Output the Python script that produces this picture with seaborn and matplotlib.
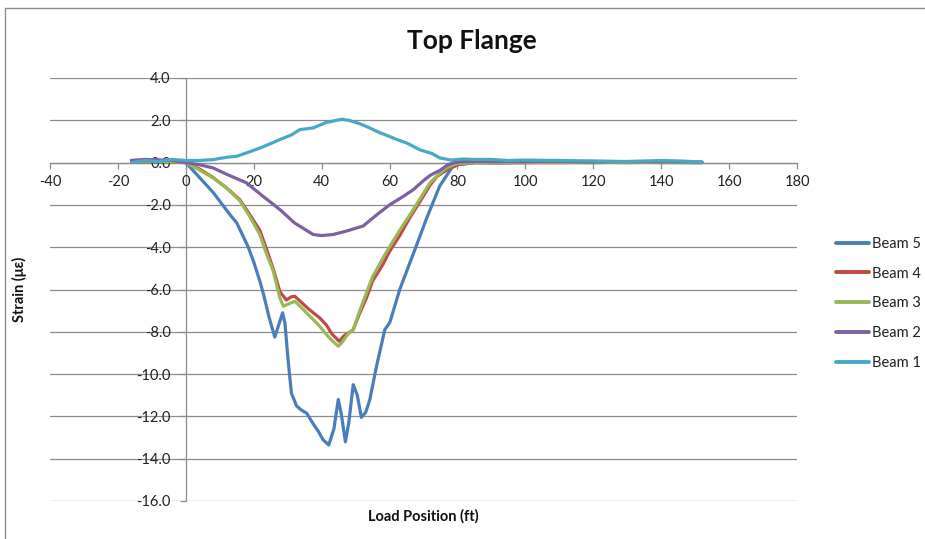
import matplotlib
matplotlib.use("Agg")
import matplotlib.pyplot as plt
from matplotlib.lines import Line2D
import numpy as np
import pandas as pd
import seaborn as sns

# Load position (ft) and strain readings for each beam, top flange gauges
beam5_x = [-16, -10, -5, -2, 0, 4, 8, 13, 15, 18.4, 20, 21.8, 23, 24.5, 26.2, 27.5, 28.5,
           29.2, 30.1, 31.1, 32.6, 34, 35.6, 37.5, 39, 40.4, 42.1, 43, 43.6, 44.9, 45.8,
           47.0, 48, 49.3, 50.5, 51.7, 53, 54.2, 56.2, 58.6, 60.1, 63, 67.5, 71, 74.8,
           78.3, 80, 85, 90, 100, 110, 120, 130, 140, 152]
beam5_y = [0.1, 0.12, 0.1, 0.05, 0.0, -0.7, -1.4, -2.46, -2.85, -4.0, -4.7, -5.6, -6.3,
           -7.3, -8.25, -7.6, -7.1, -7.6, -9.3, -10.9, -11.5, -11.7, -11.85, -12.35,
           -12.7, -13.1, -13.35, -12.9, -12.6, -11.2, -11.9, -13.2, -12.3, -10.5, -11.0,
           -12.05, -11.8, -11.2, -9.6, -7.9, -7.55, -6.0, -4.1, -2.6, -1.1, -0.25, -0.1,
           0.0, -0.02, 0.0, 0.02, 0.0, 0.02, 0.0, 0.0]

beam4_x = [-16, -10, -5, 0, 4, 8, 12, 15.9, 19, 21.8, 24, 25.7, 27.7, 29.6, 31, 32.1, 34,
           36, 39.5, 41.5, 43, 45.2, 46.5, 49.3, 51, 53.2, 55, 58.1, 60, 63, 66, 69.9,
           72, 74, 77.8, 80, 85, 90, 100, 110, 120, 130, 140, 152]
beam4_y = [0.05, 0.05, 0.05, 0.0, -0.3, -0.7, -1.2, -1.75, -2.5, -3.2, -4.2, -5.0, -6.1,
           -6.5, -6.35, -6.32, -6.6, -6.9, -7.35, -7.7, -8.1, -8.45, -8.2, -7.9, -7.2,
           -6.4, -5.6, -4.8, -4.2, -3.45, -2.6, -1.6, -1.05, -0.65, -0.25, -0.1, 0.0,
           0.0, 0.0, 0.0, 0.02, 0.0, 0.03, 0.0]

beam3_x = [-16, -10, -5, 0, 4, 8, 12, 15.9, 19, 21.8, 23.5, 25.7, 27.7, 28.7, 30, 32.1,
           34, 37.5, 39.5, 41.4, 43, 44.9, 46, 48, 49.3, 51, 53.2, 55, 58.1, 60.1, 63,
           67, 71.9, 74.5, 76.8, 79.7, 85, 90, 100, 110, 120, 130, 140, 152]
beam3_y = [0.05, 0.08, 0.05, 0.0, -0.35, -0.72, -1.2, -1.8, -2.6, -3.4, -4.2, -5.1,
           -6.4, -6.79, -6.7, -6.56, -6.85, -7.42, -7.75, -8.13, -8.4, -8.68, -8.5,
           -8.05, -7.9, -7.1, -6.16, -5.4, -4.5, -3.96, -3.2, -2.22, -0.96, -0.55,
           -0.25, -0.05, 0.0, 0.0, 0.02, 0.0, 0.0, 0.02, 0.02, 0.0]

beam2_x = [-16, -12, -8, -4, 0, 4, 8, 12, 17.9, 22, 27.7, 32, 37.5, 40, 43.4, 47, 52.2,
           57, 60.1, 64, 67, 70, 72, 75, 77, 79, 82, 90, 100, 110, 120, 130, 140, 152]
beam2_y = [0.1, 0.15, 0.12, 0.1, 0.0, -0.1, -0.25, -0.55, -0.96, -1.5, -2.22, -2.85,
           -3.4, -3.45, -3.4, -3.25, -3.0, -2.37, -1.99, -1.6, -1.28, -0.85, -0.6,
           -0.35, -0.12, 0.0, 0.05, 0.05, 0.05, 0.05, 0.03, 0.05, 0.05, 0.03]

beam1_x = [-16, -12, -8, -4, 0, 4, 8, 12, 15, 17.9, 22, 25, 27.7, 31, 33.6, 37.5, 41.4,
           43, 45.9, 48, 51, 54, 57, 59, 62, 65, 69, 72.5, 74.8, 78, 81.7, 85, 90, 95,
           100, 110, 120, 130, 140, 145, 152]
beam1_y = [0.0, 0.1, 0.05, 0.15, 0.1, 0.1, 0.14, 0.25, 0.3, 0.46, 0.7, 0.9, 1.09, 1.3,
           1.56, 1.64, 1.9, 1.95, 2.05, 2.0, 1.85, 1.65, 1.42, 1.3, 1.1, 0.93, 0.6,
           0.43, 0.22, 0.12, 0.17, 0.15, 0.15, 0.1, 0.12, 0.1, 0.08, 0.05, 0.1, 0.08,
           0.03]

series_names = ["Beam 5", "Beam 4", "Beam 3", "Beam 2", "Beam 1"]
series_x = [beam5_x, beam4_x, beam3_x, beam2_x, beam1_x]
series_y = [beam5_y, beam4_y, beam3_y, beam2_y, beam1_y]
colors = ["#4A7EBB", "#BE4B48", "#98B954", "#7D60A0", "#46AAC5"]

x_ticks = [-40, -20, 0, 20, 40, 60, 80, 100, 120, 140, 160, 180]
y_ticks = [-16, -14, -12, -10, -8, -6, -4, -2, 0, 2, 4]

frames = []
for name, xs, ys in zip(series_names, series_x, series_y):
    frames.append(pd.DataFrame({"Load Position (ft)": xs, "Strain": ys, "Beam": name}))
df = pd.concat(frames, ignore_index=True)

sns.set_style("white")
plt.rcParams["font.family"] = ["Lato", "DejaVu Sans"]

W, H = 925, 539
fig = plt.figure(figsize=(W / 100, H / 100), dpi=100)
ax = fig.add_axes([50 / W, 1 - 501 / H, (797 - 50) / W, (501 - 78) / H])

sns.lineplot(data=df, x="Load Position (ft)", y="Strain", hue="Beam",
             hue_order=series_names, palette=dict(zip(series_names, colors)),
             estimator=None, sort=False, linewidth=2.3, ax=ax, legend=False)

ax.set_xlim(-40, 180)
ax.set_ylim(-16, 4)
ax.set_xticks(x_ticks)
ax.set_yticks(y_ticks)
ax.set_yticklabels([f"{v:.1f}" for v in y_ticks])
ax.set_xticklabels([str(v) for v in x_ticks])

grid_c = "#8C8C8C"
ax.yaxis.grid(True, color=grid_c, linewidth=0.9)
ax.xaxis.grid(False)
ax.set_axisbelow(True)
for s in ["top", "right"]:
    ax.spines[s].set_visible(False)
ax.spines["left"].set_position(("data", 0))
ax.spines["bottom"].set_position(("data", 0))
for s in ["left", "bottom"]:
    ax.spines[s].set_color(grid_c)
    ax.spines[s].set_linewidth(0.9)
    ax.spines[s].set_zorder(0.5)

ax.tick_params(axis="x", direction="out", length=4, width=0.9, color=grid_c,
               labelsize=10.5, pad=5, labelcolor="#222222")
ax.tick_params(axis="y", direction="out", length=4, width=0.9, color=grid_c,
               labelsize=10.5, pad=7, labelcolor="#222222")
ax.tick_params(axis="x", bottom=True)
ax.tick_params(axis="y", left=True)

ax.set_xlabel("Load Position (ft)", fontsize=10.5, fontweight="bold", color="#111111")
ax.xaxis.set_label_coords(0.5, -0.018)
ax.set_ylabel("Strain (με)", fontsize=10.5, fontweight="bold", color="#111111")
ax.yaxis.set_label_coords(-0.031, 0.5)

fig.text(472 / W, 1 - 41 / H, "Top Flange", ha="center", va="center",
         fontsize=19, fontweight="bold", color="#111111")

handles = [Line2D([0], [0], color=c, lw=2.8) for c in colors]
fig.legend(handles, series_names, loc="upper left",
           bbox_to_anchor=(830 / W, 1 - 231 / H), frameon=False, fontsize=10.5,
           handlelength=2.3, handletextpad=0.2, labelspacing=1.08,
           borderaxespad=0, labelcolor="#222222")

# outer frame of the chart area
fig.add_artist(Line2D([4.5 / W, 4.5 / W], [0, 1 - 8 / H], transform=fig.transFigure,
                      color="#8A8A8A", lw=1.0))
fig.add_artist(Line2D([4.5 / W, 1], [1 - 8 / H, 1 - 8 / H], transform=fig.transFigure,
                      color="#8A8A8A", lw=1.0))

fig.savefig("out.png", dpi=100, facecolor="white")
